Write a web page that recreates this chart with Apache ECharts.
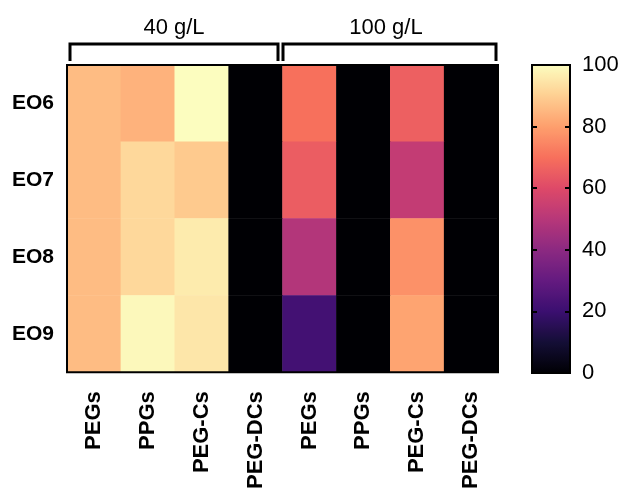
<!DOCTYPE html>
<html><head><meta charset="utf-8">
<script src="https://cdn.jsdelivr.net/npm/echarts@6/dist/echarts.min.js"></script>
<style>html,body{margin:0;padding:0;background:#fff}#c{width:623px;height:492px}</style>
</head><body><div id="c"></div>
<script>
const columns = ['PEGs','PPGs','PEG-Cs','PEG-DCs','PEGs','PPGs','PEG-Cs','PEG-DCs'];
const columnIds = ['40-PEGs','40-PPGs','40-PEG-Cs','40-PEG-DCs','100-PEGs','100-PPGs','100-PEG-Cs','100-PEG-DCs'];
const rows = ['EO6','EO7','EO8','EO9'];
const valEO6 = [86, 84, 100, 0, 70, 0, 66, 0];
const valEO7 = [86, 92, 89, 0, 65, 0, 53, 0];
const valEO8 = [86, 92, 96, 0, 49, 0, 77, 0];
const valEO9 = [86, 99, 95, 0, 22, 0, 81, 0];
const groups = ['40 g/L', '100 g/L'];
const cbTicks = [0, 20, 40, 60, 80, 100];
const magma = ['#000004','#140e36','#3b0f70','#641a80','#8c2981','#b73779','#de4968','#f7705c','#fe9f6d','#fecf92','#fcfdbf'];

const table = [valEO6, valEO7, valEO8, valEO9];
const data = [];
table.forEach((r, yi) => r.forEach((v, xi) => data.push([xi, yi, v])));

const chart = echarts.init(document.getElementById('c'));
const F = '"Liberation Sans", Arial, sans-serif';
chart.setOption({
  animation: false,
  backgroundColor: '#fff',
  grid: [
    {left: 67, top: 65, width: 431, height: 311, show: true, borderColor: '#000', borderWidth: 2, backgroundColor: 'transparent', z: 5},
    {left: 532, top: 65, width: 38, height: 308, show: true, borderColor: '#000', borderWidth: 2, backgroundColor: 'transparent', z: 10}
  ],
  xAxis: [
    {type: 'category', gridIndex: 0, data: columnIds,
     axisLine: {show: false}, axisTick: {show: false}, splitLine: {show: false},
     axisLabel: {rotate: 90, margin: 19, fontSize: 22, fontWeight: 'bold', color: '#000', fontFamily: F,
       formatter: (v, i) => columns[i]}},
    {type: 'category', gridIndex: 1, data: [''], show: false}
  ],
  yAxis: [
    {type: 'category', gridIndex: 0, data: rows, inverse: true,
     axisLine: {show: false}, axisTick: {show: false}, splitLine: {show: false},
     axisLabel: {margin: 13, fontSize: 21, fontWeight: 'bold', color: '#000', fontFamily: F}},
    {type: 'value', gridIndex: 1, min: 0, max: 100, interval: 20, position: 'right', z: 12,
     axisLine: {show: false}, splitLine: {show: false},
     axisTick: {show: true, inside: true, length: 5, lineStyle: {color: '#000', width: 2},
       customValues: [20, 40, 60, 80]},
     axisLabel: {margin: 12, fontSize: 22, color: '#000', fontFamily: F,
       customValues: cbTicks}},
    {type: 'value', gridIndex: 1, min: 0, max: 100, interval: 20, position: 'left', z: 12,
     axisLine: {show: false}, splitLine: {show: false},
     axisTick: {show: true, inside: true, length: 5, lineStyle: {color: '#000', width: 2},
       customValues: [20, 40, 60, 80]},
     axisLabel: {show: false}}
  ],
  visualMap: {
    type: 'continuous', min: 0, max: 100, seriesIndex: 0, calculable: false,
    left: 532, top: 65, itemWidth: 38, itemHeight: 308, padding: 0, z: 4,
    text: null, showLabel: false, inRange: {color: magma}, hoverLink: false
  },
  series: [{
    type: 'heatmap', xAxisIndex: 0, yAxisIndex: 0, data: data,
    itemStyle: {borderWidth: 0}, emphasis: {disabled: true}
  }],
  graphic: [
    {type: 'polyline', shape: {points: [[70, 61], [70, 44], [278, 44], [278, 61]]}, style: {stroke: '#000', lineWidth: 3, fill: null}},
    {type: 'polyline', shape: {points: [[283, 61], [283, 44], [496, 44], [496, 61]]}, style: {stroke: '#000', lineWidth: 3, fill: null}},
    {type: 'text', x: 174, y: 28, style: {text: groups[0], font: '22px ' + F, fill: '#000', textAlign: 'center', textVerticalAlign: 'middle'}},
    {type: 'text', x: 386, y: 28, style: {text: groups[1], font: '22px ' + F, fill: '#000', textAlign: 'center', textVerticalAlign: 'middle'}}
  ]
});
</script></body></html>
